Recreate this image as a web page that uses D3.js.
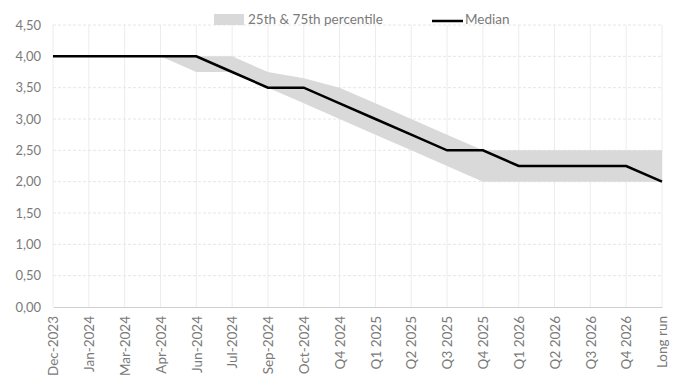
<!DOCTYPE html>
<html>
<head>
<meta charset="utf-8">
<script src="https://cdn.jsdelivr.net/npm/d3@7"></script>
<style>
  body { margin: 0; background: #fff; }
  svg text { font-family: Lato, "Open Sans", sans-serif; fill: #7a7a7a; }
</style>
</head>
<body>
<div id="chart"></div>
<script>
  // category labels along the x axis
  var categories = ["Dec-2023", "Jan-2024", "Mar-2024", "Apr-2024", "Jun-2024", "Jul-2024",
    "Sep-2024", "Oct-2024", "Q4 2024", "Q1 2025", "Q2 2025", "Q3 2025", "Q4 2025",
    "Q1 2026", "Q2 2026", "Q3 2026", "Q4 2026", "Long run"];

  var median = [4, 4, 4, 4, 4, 3.75, 3.5, 3.5, 3.25, 3.0, 2.75, 2.5, 2.5, 2.25, 2.25, 2.25, 2.25, 2.0];
  var p25 = [4, 4, 4, 4, 3.75, 3.75, 3.5, 3.25, 3.0, 2.75, 2.5, 2.25, 2.0, 2.0, 2.0, 2.0, 2.0, 2.0];
  var p75 = [4, 4, 4, 4, 4, 4, 3.75, 3.65, 3.5, 3.25, 3.0, 2.75, 2.5, 2.5, 2.5, 2.5, 2.5, 2.5];

  var yTicks = [0, 0.5, 1, 1.5, 2, 2.5, 3, 3.5, 4, 4.5];

  var width = 685, height = 384;
  var margin = { top: 25, right: 23, bottom: 77, left: 53 };

  var svg = d3.select("#chart").append("svg")
    .attr("width", width)
    .attr("height", height);

  var x = d3.scalePoint()
    .domain(categories)
    .range([margin.left, width - margin.right]);

  var y = d3.scaleLinear()
    .domain([0, 4.5])
    .range([height - margin.bottom, margin.top]);

  var fmt = function (v) { return d3.format(".2f")(v).replace(".", ","); };

  // vertical grid
  svg.append("g")
    .selectAll("line")
    .data(categories)
    .enter().append("line")
    .attr("x1", d => x(d)).attr("x2", d => x(d))
    .attr("y1", y(4.5)).attr("y2", y(0))
    .style("stroke", "#ececec")
    .style("stroke-width", 1);

  // horizontal grid (dashed)
  svg.append("g")
    .selectAll("line")
    .data(yTicks.filter(d => d > 0))
    .enter().append("line")
    .attr("x1", x.range()[0]).attr("x2", x.range()[1])
    .attr("y1", d => y(d)).attr("y2", d => y(d))
    .style("stroke", "#e6e6e6")
    .style("stroke-dasharray", "3,2")
    .style("stroke-width", 1);

  // percentile band
  var band = categories.map((c, i) => ({ c: c, lo: p25[i], hi: p75[i] }));
  svg.append("path")
    .datum(band)
    .attr("d", d3.area()
      .x(d => x(d.c))
      .y0(d => y(d.lo))
      .y1(d => y(d.hi)))
    .style("fill", "#d9d9d9");

  // median line
  svg.append("path")
    .datum(categories.map((c, i) => ({ c: c, v: median[i] })))
    .attr("d", d3.line()
      .x(d => x(d.c))
      .y(d => y(d.v)))
    .style("fill", "none")
    .style("stroke", "#000")
    .style("stroke-width", 2.5);

  // x axis
  var xAxis = svg.append("g")
    .attr("transform", `translate(0,${y(0)})`)
    .call(d3.axisBottom(x).tickSize(0));
  xAxis.select(".domain").style("stroke", "#d0d0d0");
  xAxis.selectAll("text")
    .attr("transform", "rotate(-90)")
    .attr("text-anchor", "end")
    .attr("x", -9)
    .attr("y", 0)
    .attr("dy", "0.35em")
    .style("font-size", "13.5px");

  // y axis
  var yAxis = svg.append("g")
    .attr("transform", `translate(${margin.left},0)`)
    .call(d3.axisLeft(y).tickValues(yTicks).tickFormat(fmt).tickSize(0).tickPadding(12));
  yAxis.select(".domain").remove();
  yAxis.selectAll("text").style("font-size", "13px");

  // legend
  var legend = svg.append("g");
  legend.append("rect")
    .attr("x", 214).attr("y", 14)
    .attr("width", 30).attr("height", 11)
    .style("fill", "#d9d9d9");
  legend.append("text")
    .attr("x", 248).attr("y", 24)
    .style("font-size", "13.5px")
    .text("25th & 75th percentile");
  legend.append("line")
    .attr("x1", 432).attr("x2", 463)
    .attr("y1", 21).attr("y2", 21)
    .style("stroke", "#000")
    .style("stroke-width", 2.5);
  legend.append("text")
    .attr("x", 465).attr("y", 24)
    .style("font-size", "13.5px")
    .text("Median");
</script>
</body>
</html>
